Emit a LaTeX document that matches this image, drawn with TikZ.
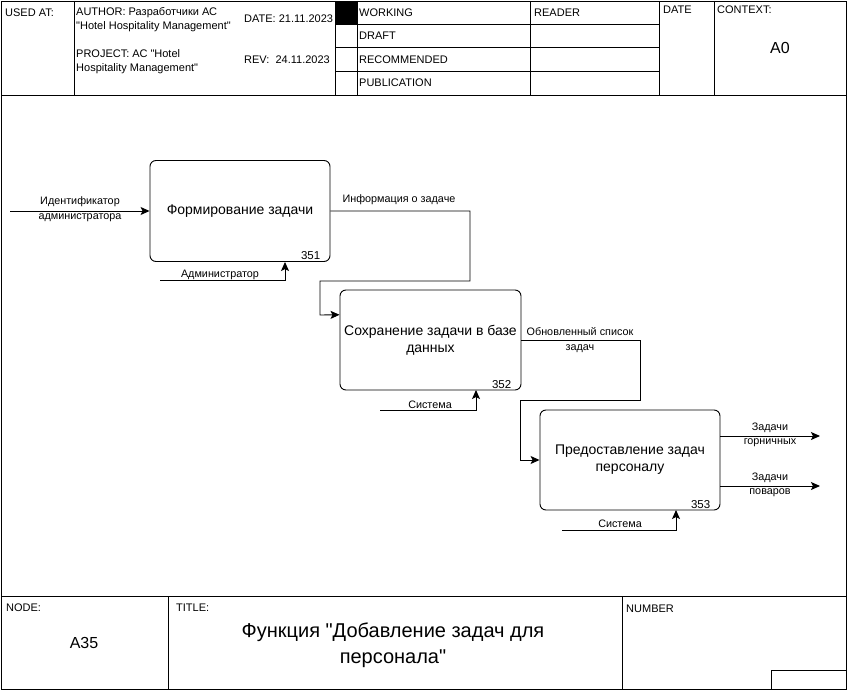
\documentclass[tikz,border=0pt]{standalone}
\usepackage{fontspec}
\setmainfont{Liberation Sans}[Ligatures=TeXOff]
\usetikzlibrary{arrows.meta,calc}
\begin{document}
\begin{tikzpicture}[x=1pt,y=-1pt,
  frame/.style={draw, line width=0.9pt},
  hdr/.style={font=\fontsize{11}{14}\selectfont, anchor=west, inner sep=0, align=left},
  big/.style={font=\fontsize{16}{19}\selectfont, inner sep=0},
  box/.style={draw, rounded corners=6pt, line width=0.9pt, minimum width=180pt, minimum height=101pt, align=center, font=\fontsize{14}{17}\selectfont, inner sep=2pt},
  lbl/.style={font=\fontsize{10.8}{14.5}\selectfont, align=center, inner sep=0},
  num/.style={font=\fontsize{11.5}{13}\selectfont, inner sep=0},
  arr/.style={draw, line width=0.9pt, -{Stealth[length=9pt,width=8pt,inset=2pt]}},
  ln/.style={draw, line width=0.9pt}]
\useasboundingbox (0,0) rectangle (847,690);
% outer frame
\draw[frame] (1,1) rectangle (846,689);
% header
\draw[frame] (1,95) -- (846,95);
\foreach \x in {74,335,357,530,659,714} \draw[frame] (\x,1) -- (\x,95);
\foreach \y in {24,47,71} \draw[frame] (335,\y) -- (659,\y);
\fill (335,1) rectangle (357,24);
\node[hdr] (usedat) at (5,13) {USED AT:};
\node[hdr] (author) at (76,20) {AUTHOR: Разработчики АС\\"Hotel Hospitality Management"};
\node[hdr] (date) at (244,19) {DATE: 21.11.2023};
\node[hdr] (project) at (76,62) {PROJECT: АС "Hotel\\Hospitality Management"};
\node[hdr] (rev) at (244,60) {REV:\ \ 24.11.2023};
\node[hdr] (working) at (359,13) {WORKING};
\node[hdr] (draft) at (359,36) {DRAFT};
\node[hdr] (recom) at (359,60) {RECOMMENDED};
\node[hdr] (publ) at (359,83) {PUBLICATION};
\node[hdr] (reader) at (534,13) {READER};
\node[hdr] (date2) at (663,10) {DATE};
\node[hdr] (context) at (717,10) {CONTEXT:};
\node[big] (a0) at (780,48) {A0};
% footer
\draw[frame] (1,596) -- (846,596);
\draw[frame] (168,596) -- (168,689);
\draw[frame] (622,596) -- (622,689);
\draw[frame] (771,689) -- (771,670) -- (846,670);
\node[hdr] (nodelbl) at (6,608) {NODE:};
\node[big] (a35) at (84,643) {A35};
\node[hdr] (titlelbl) at (176,608) {TITLE:};
\node[font=\fontsize{20}{26}\selectfont, align=center, inner sep=0] (title) at (393,645) {Функция "Добавление задач для\\персонала"};
\node[hdr] (number) at (626,609) {NUMBER};
% boxes
\node[box] (b1) at (240,211) {Формирование задачи};
\node[box, minimum width=181pt, minimum height=100pt] (b2) at (430.5,340) {Сохранение задачи в базе\\данных};
\node[box, minimum height=100pt] (b3) at (630,460) {Предоставление задач\\персоналу};
\node[num, anchor=south east] at ($(b1.south east)+(-10,-2)$) {351};
\node[num, anchor=south east] at ($(b2.south east)+(-10,-2)$) {352};
\node[num, anchor=south east] at ($(b3.south east)+(-10,-2)$) {353};
% connectors
\coordinate (in1) at (10,211);
\draw[arr] (in1) -- (b1.west);
\node[lbl] (lin1) at (80,209) {Идентификатор\\администратора};
\coordinate (c1) at (160,280);
\draw[arr] (c1) -- (285,280) -- (285,262);
\node[lbl] (lc1) at (220,275) {Администратор};
\draw[arr] (b1.east) -- (470,211) -- (470,281) -- (320,281) -- (320,315) -- ($(b2.north west)!0.25!(b2.south west)$);
\node[lbl] (lo1) at (399,200) {Информация о задаче};
\coordinate (c2) at (380,410);
\draw[arr] (c2) -- (476,410) -- (476,390);
\node[lbl] (lc2) at (430,405) {Система};
\draw[arr] (b2.east) -- (640,340) -- (640,400) -- (520,400) -- (520,460) -- (b3.west);
\node[lbl] (lo2) at (580,340) {Обновленный список\\задач};
\coordinate (c3) at (562,530);
\draw[arr] (c3) -- (676,530) -- (676,510);
\node[lbl] (lc3) at (620,524) {Система};
\coordinate (o3a) at (820,436);
\coordinate (o3b) at (820,486);
\draw[arr] (b3.east |- o3a) -- (o3a);
\draw[arr] (b3.east |- o3b) -- (o3b);
\node[lbl] (lo3a) at (770,435) {Задачи\\горничных};
\node[lbl] (lo3b) at (770,485) {Задачи\\поваров};
\end{tikzpicture}
\end{document}
